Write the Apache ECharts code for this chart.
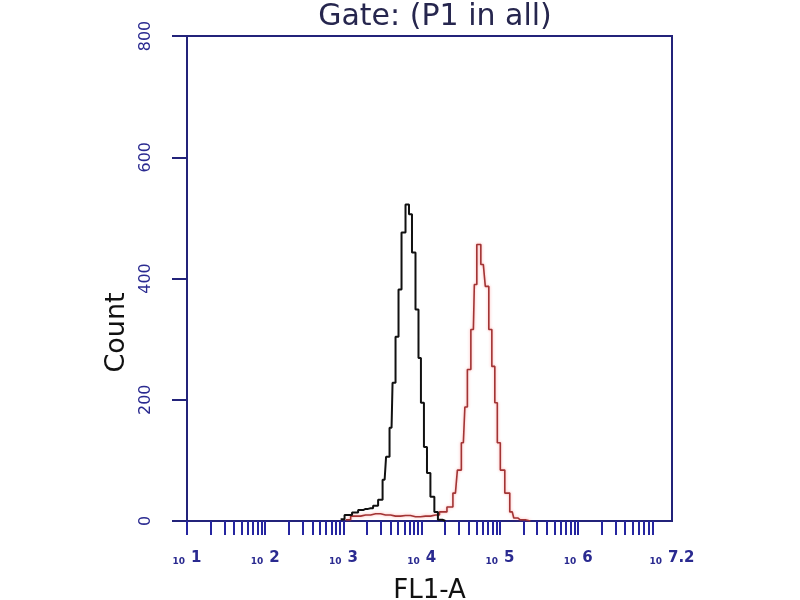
<!DOCTYPE html>
<html>
<head>
<meta charset="utf-8">
<script src="https://cdn.jsdelivr.net/npm/echarts@6/dist/echarts.min.js"></script>
<style>html,body{margin:0;padding:0;background:#fff;}#c{width:800px;height:600px;}</style>
</head>
<body>
<div id="c"></div>
<script>
// FL1-A channel values (log axis) and counts
var blackX = [920, 1160, 1430, 1660, 1920, 2220, 2580, 2980, 3360, 3660, 4120, 4370, 4910, 5210, 5860, 6590, 7190, 7860, 8840, 9380, 10200, 11200, 12200, 13700, 15400, 16900, 20100];
var blackY = [3, 10, 14, 18, 20, 21, 25, 35, 68, 106, 154, 228, 304, 382, 476, 522, 506, 443, 349, 269, 195, 122, 79, 40, 15, 2, 0];
var redX = [1070, 1430, 1920, 2580, 3450, 4630, 6210, 8340, 11200, 15000, 19000, 23300, 27000, 30300, 34100, 37300, 39500, 45800, 48500, 53000, 61400, 69000, 75500, 82400, 90000, 95400, 107400, 124200, 143900, 157100, 182000, 244300];
var redY = [2, 8, 10, 12, 10, 8, 9, 7, 8, 10, 15, 23, 46, 84, 129, 188, 250, 316, 390, 456, 423, 387, 316, 255, 195, 129, 84, 46, 15, 5, 2, 0];
var decadeLabels = ['1', '2', '3', '4', '5', '6', '7', '7.2'];
var yTicks = [0, 200, 400, 600, 800];

var xMax = Math.pow(10, 7.2);
var labelValues = decadeLabels.map(function (e) { return Math.min(Math.pow(10, parseFloat(e)), xMax * 0.9995); });
var tickValues = [];
for (var d = 1; d <= 7; d++) {
  for (var m = 1; m <= 9; m++) {
    var v = m * Math.pow(10, d);
    if (v <= xMax) tickValues.push(v);
  }
}

function pairs(xs, ys) { return xs.map(function (x, i) { return [x, ys[i]]; }); }

var FONT = 'DejaVu Sans';
var navy = '#23237a';
var labelBlue = '#2a2a90';
var chart = echarts.init(document.getElementById('c'));
chart.setOption({
  backgroundColor: '#ffffff',
  animation: false,
  title: {
    text: 'Gate: (P1 in all)',
    left: 430, top: -3, textAlign: 'center',
    textStyle: { fontFamily: FONT, fontSize: 30, fontWeight: 'normal', color: '#26264e' }
  },
  grid: { left: 187, right: 128, top: 36, bottom: 79, show: true, borderColor: navy, borderWidth: 2, backgroundColor: '#fff', outerBoundsMode: 'none', containLabel: false },
  xAxis: {
    type: 'log', logBase: 10, min: 10, max: xMax,
    name: 'FL1-A', nameLocation: 'middle', nameGap: 57,
    nameTextStyle: { fontFamily: FONT, fontSize: 26, color: '#111' },
    axisLine: { show: true, lineStyle: { color: navy, width: 2 } },
    axisTick: { show: true, length: 14, customValues: tickValues, lineStyle: { color: '#2525a0', width: 2 } },
    axisLabel: {
      customValues: labelValues, margin: 29, hideOverlap: false, showMaxLabel: true,
      formatter: function (val) {
        var lg = Math.log10(val);
        var idx = 0, best = 1e9;
        labelValues.forEach(function (v, i) { var dd = Math.abs(Math.log10(v) - lg); if (dd < best) { best = dd; idx = i; } });
        return '{s|10}{b|' + decadeLabels[idx] + '}';
      },
      rich: {
        s: { fontFamily: FONT, fontSize: 9, color: labelBlue, fontWeight: 'bold', verticalAlign: 'bottom', lineHeight: 16, padding: [0, 6, 0, 0] },
        b: { fontFamily: FONT, fontSize: 15, color: labelBlue, fontWeight: 'bold', verticalAlign: 'bottom', lineHeight: 16 }
      }
    },
    splitLine: { show: false },
    minorTick: { show: false }
  },
  yAxis: {
    type: 'value', min: 0, max: 800, interval: 200,
    name: 'Count', nameLocation: 'middle', nameGap: 57, nameRotate: 90,
    nameTextStyle: { fontFamily: FONT, fontSize: 27, color: '#111', padding: [0, 108, 0, 0] },
    axisLine: { show: true, lineStyle: { color: navy, width: 2 } },
    axisTick: { show: true, length: 15, lineStyle: { color: navy, width: 2 } },
    axisLabel: {
      rotate: 90, margin: 33, fontFamily: FONT, fontSize: 16, color: labelBlue,
      customValues: yTicks
    },
    splitLine: { show: false }
  },
  series: [
    {
      type: 'line', step: 'middle', showSymbol: false, data: pairs(redX, redY),
      lineStyle: { color: '#a23434', width: 1.6, shadowColor: 'rgba(255,60,60,0.45)', shadowBlur: 3 },
      z: 3
    },
    {
      type: 'line', step: 'middle', showSymbol: false, data: pairs(blackX, blackY),
      lineStyle: { color: '#111111', width: 2 },
      z: 4
    }
  ]
});
</script>
</body>
</html>
